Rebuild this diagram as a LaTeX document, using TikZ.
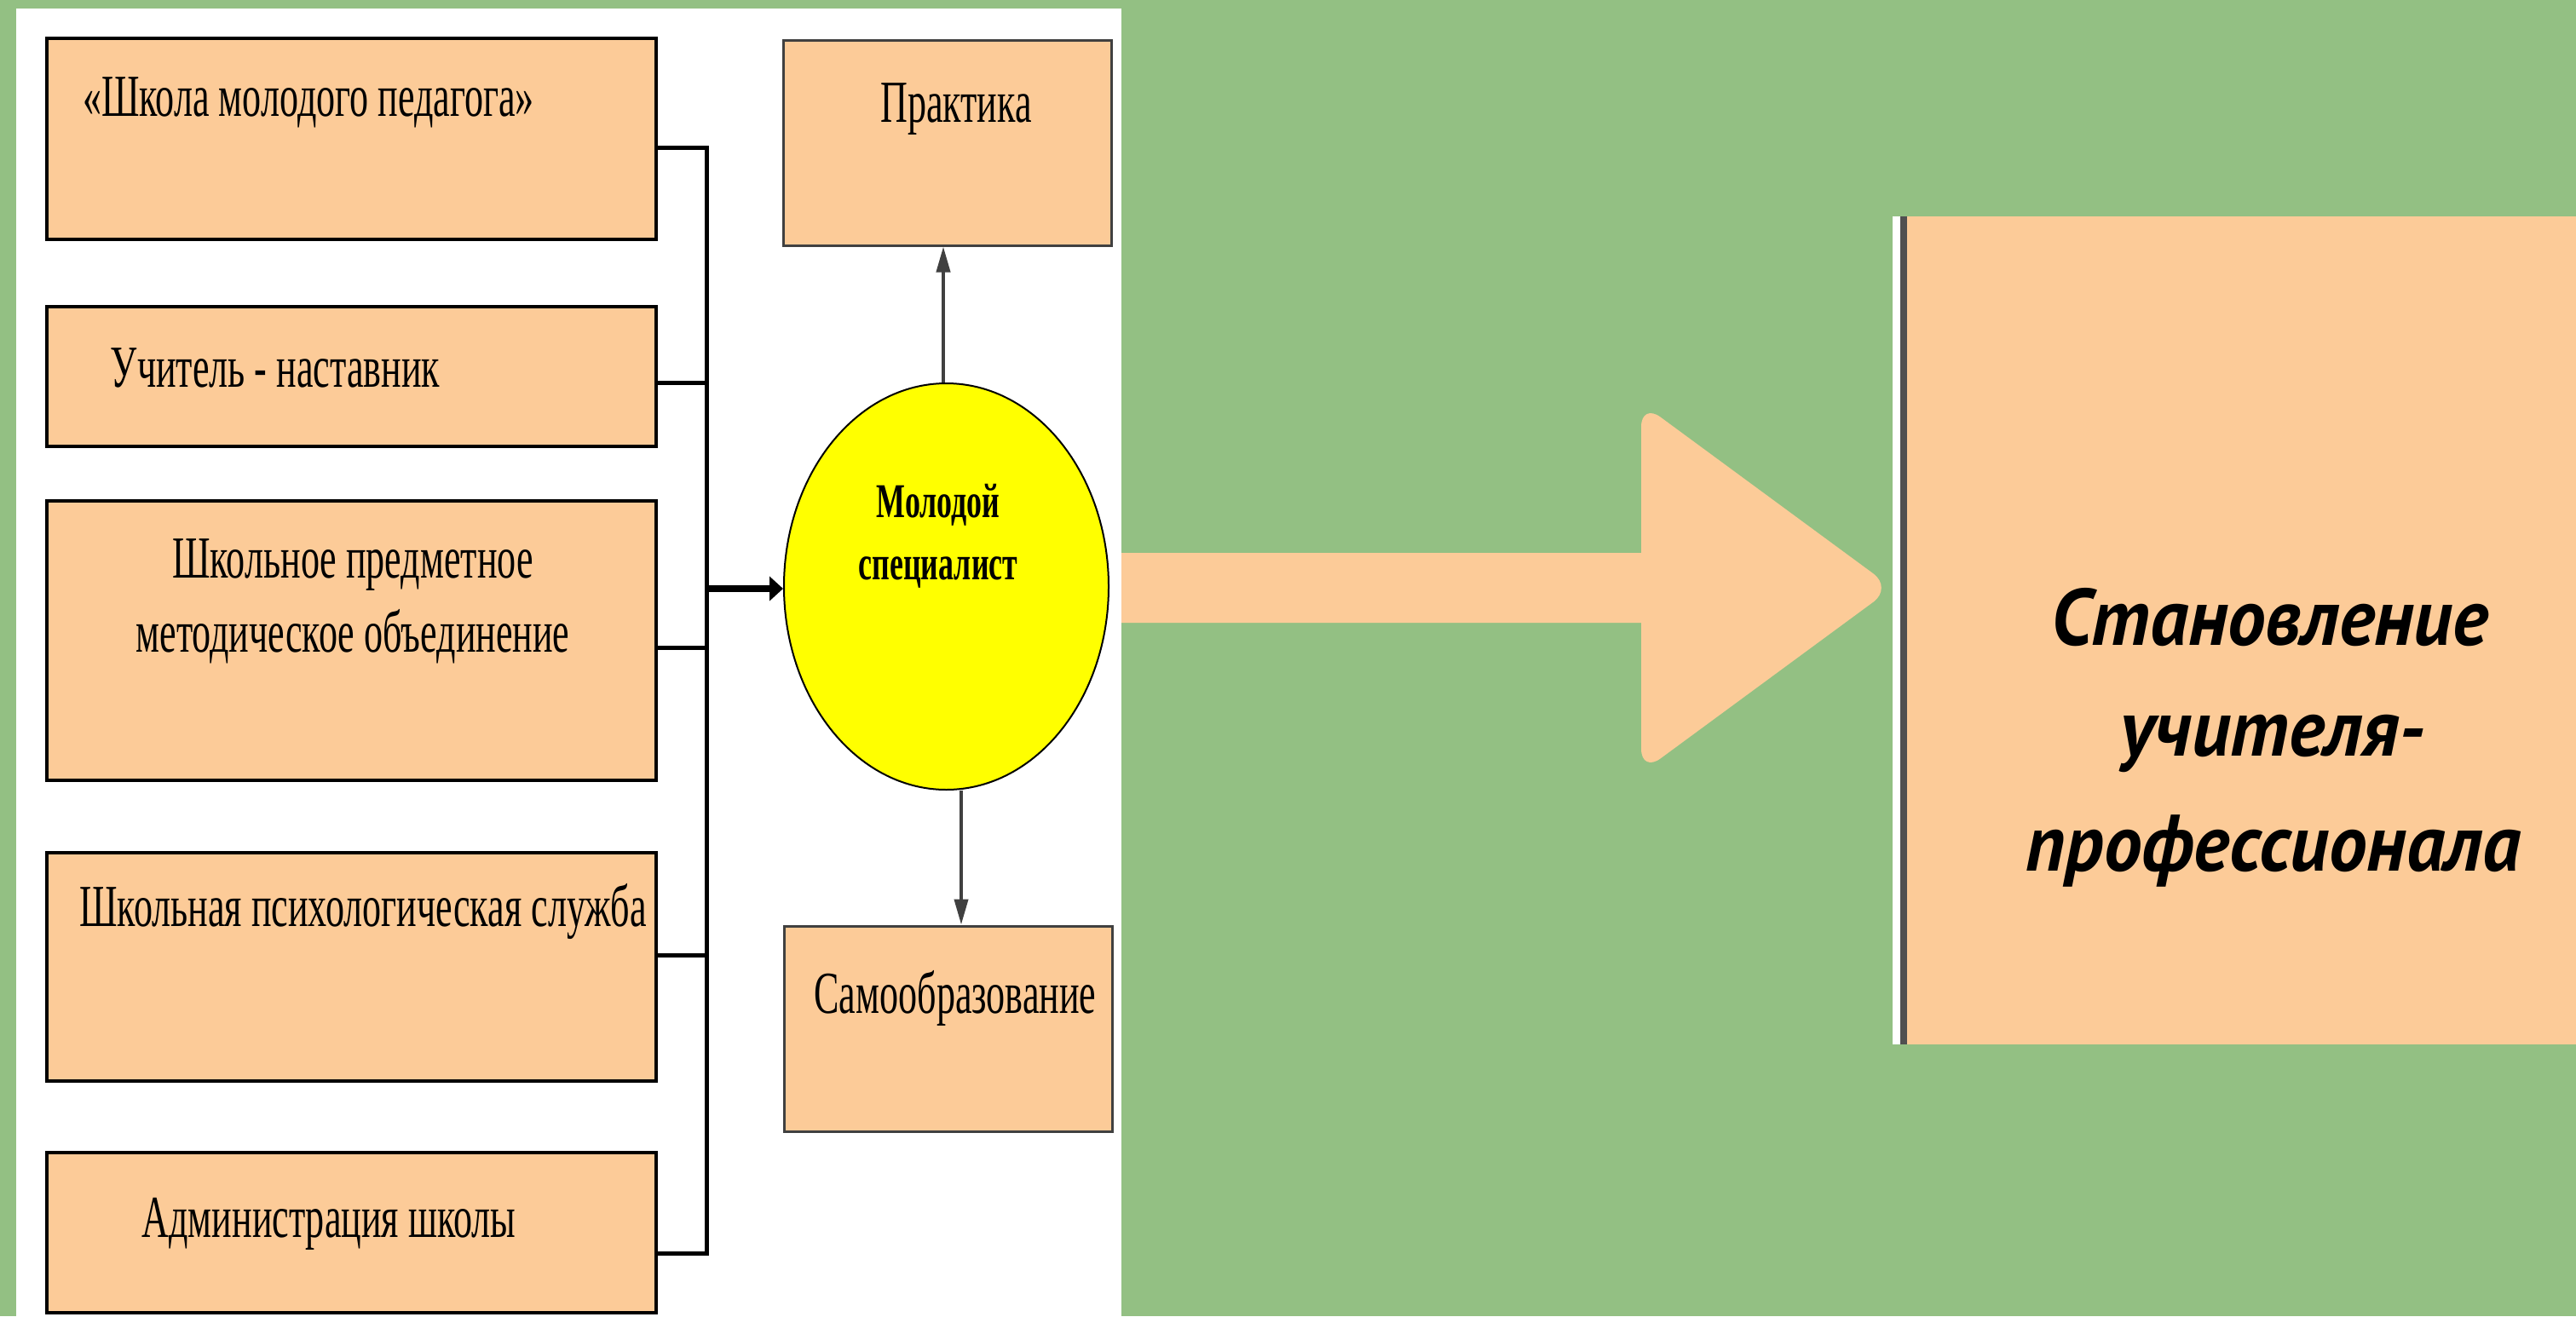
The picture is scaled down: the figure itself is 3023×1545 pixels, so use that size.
\documentclass[tikz,border=0pt]{standalone}
\usepackage{fontspec}
\usetikzlibrary{arrows.meta,shapes.geometric}
\newfontfamily\lserif[FakeStretch=0.63]{Liberation Serif}
\newfontfamily\gfont[FakeStretch=0.95]{PT Sans}
\definecolor{bggreen}{RGB}{147,192,131}
\definecolor{beige}{RGB}{252,203,152}
\definecolor{lineg}{RGB}{64,64,64}
\definecolor{edgeg}{RGB}{80,80,80}
\definecolor{yell}{RGB}{255,255,0}
\tikzset{
  leftbox/.style={draw=black, line width=4pt, fill=beige, inner sep=0pt},
  rightbox/.style={draw=lineg, line width=3pt, fill=beige, inner sep=0pt},
  txt/.style={anchor=base, inner sep=0pt, font=\lserif\fontsize{70}{84}\selectfont},
  btxt/.style={anchor=base, inner sep=0pt, font=\lserif\bfseries\fontsize{57}{68}\selectfont},
  gtxt/.style={anchor=base, inner sep=0pt, font=\gfont\bfseries\itshape\fontsize{94}{133}\selectfont},
  bus/.style={line width=5pt, black},
  thin/.style={line width=4pt, lineg, -{Triangle[length=30pt,width=16pt]}}
}
\begin{document}
\begin{tikzpicture}[x=1pt,y=-1pt]
\useasboundingbox (0,0) rectangle (3023,1545);
\fill[bggreen] (0,0) rectangle (3023,1545);
\fill[white] (19,10) rectangle (1316,1545);
% left boxes
\node[leftbox, minimum width=715, minimum height=236] (b1) at (412.5,163) {};
\node[leftbox, minimum width=715, minimum height=164] (b2) at (412.5,442) {};
\node[leftbox, minimum width=715, minimum height=328] (b3) at (412.5,752) {};
\node[leftbox, minimum width=715, minimum height=268] (b4) at (412.5,1135) {};
\node[leftbox, minimum width=715, minimum height=188] (b5) at (412.5,1447) {};
\node[txt] (t1) at (362,136) {«Школа молодого педагога»};
\node[txt] (t2) at (323,454) {Учитель - наставник};
\node[txt] (t3a) at (414,678) {Школьное предметное};
\node[txt] (t3b) at (414,765) {методическое объединение};
\node[txt] (t4) at (426,1087) {Школьная психологическая служба};
\node[txt] (t5) at (386,1452) {Администрация школы};
% right small boxes
\node[rightbox, minimum width=385, minimum height=241] (pr) at (1111.5,167.5) {};
\node[rightbox, minimum width=385, minimum height=241] (sa) at (1112.5,1207.5) {};
\node[txt] (tpr) at (1122,143) {Практика};
\node[txt] (tsa) at (1121,1189) {Самообразование};
% ellipse
\node[draw=black, line width=2pt, fill=yell, ellipse, minimum width=381, minimum height=477, inner sep=0pt] (ell) at (1110.5,688.5) {};
\node[btxt] (te1) at (1101,607) {Молодой};
\node[btxt] (te2) at (1101,680) {специалист};
% bus
\coordinate (bt) at (829,173);
\coordinate (bb) at (829,1471);
\coordinate (bm) at (829,691);
\draw[bus] (bt) -- (bb);
\draw[bus] (b1.east |- bt) -- ([xshift=2.5pt]bt);
\draw[bus] (b2.east |- 0,449) -- (831.5,449);
\draw[bus] (b3.east |- 0,760) -- (831.5,760);
\draw[bus] (b4.east |- 0,1121) -- (831.5,1121);
\draw[bus] (b5.east |- bb) -- ([xshift=2.5pt]bb);
\draw[line width=8pt, -{Triangle[length=16pt,width=28pt]}] (bm) -- (ell.west |- bm);
% small arrows
\draw[thin] ([xshift=-3.5pt]ell.north) -- ([xshift=-4.5pt]pr.south);
\draw[thin] ([xshift=17.5pt]ell.south) -- ([xshift=15.5pt]sa.north);
% big arrow
\fill[beige] (1316,649) -- (1926,649) -- (1926,600) [rounded corners=28pt] -- (1926,473) -- (2221,690) -- (1926,907) -- (1926,800) [sharp corners] -- (1926,731) -- (1316,731) -- cycle;
% goal box
\node[fill=beige, minimum width=800, minimum height=972, inner sep=0pt, anchor=north west] (goal) at (2238,254) {};
\fill[white] ([xshift=-17pt]goal.north west) rectangle ([xshift=-8pt]goal.south west);
\fill[edgeg] ([xshift=-8pt]goal.north west) rectangle (goal.south west);
\node[gtxt] (g1) at (2664,757) {Становление};
\node[gtxt] (g2) at (2667,887) {учителя-};
\node[gtxt] (g3) at (2668,1022) {профессионала};
\end{tikzpicture}
\end{document}
